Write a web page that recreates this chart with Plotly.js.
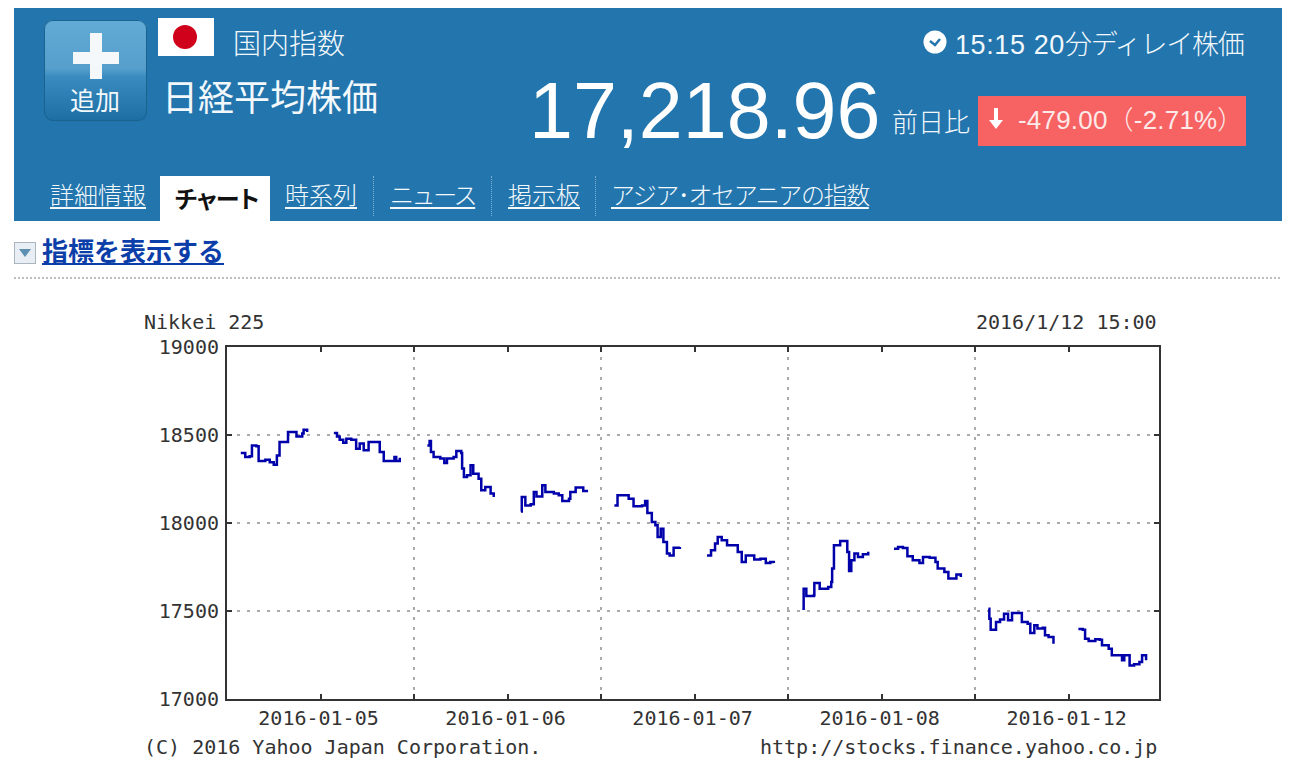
<!DOCTYPE html>
<html lang="ja">
<head>
<meta charset="utf-8">
<title>日経平均株価</title>
<script src="https://cdn.plot.ly/plotly-3.0.1.min.js"></script>
<style>
html,body{margin:0;padding:0;background:#fff;overflow:hidden;}
#chart{position:absolute;left:0;top:0;width:1300px;height:768px;}
#head{position:absolute;left:0;top:0;width:1300px;height:285px;font-family:"Noto Sans CJK JP",sans-serif;z-index:5;pointer-events:none;}
#head div,#head a,#head svg{position:absolute;white-space:nowrap;}
.w{color:#f2f8fc;font-weight:300;line-height:1;}
.tab{color:#f2f8fc;font-weight:300;font-size:24px;line-height:1;text-decoration:underline;text-underline-offset:3px;top:182px;}
.sep{top:176px;height:40px;width:0;border-left:1px dotted #7fb0d0;}
</style>
</head>
<body>
<div id="chart"></div>
<div id="head">
  <div style="left:14px;top:8px;width:1268px;height:213px;background:#2275ad;"></div>
  <div style="left:44px;top:20px;width:103px;height:101px;border-radius:9px;background:linear-gradient(#62abd6 0%,#569fcc 48%,#3a8cc0 56%,#1c6ea3 100%);box-shadow:inset 0 0 0 1px #1b628f;"></div>
  <div style="left:90px;top:33px;width:12px;height:46px;background:#f4f8fb;"></div>
  <div style="left:73px;top:52px;width:46px;height:12px;background:#f4f8fb;"></div>
  <div class="w" style="left:70px;top:87px;font-size:25px;font-weight:400;">追加</div>
  <div style="left:158px;top:18px;width:56px;height:38px;background:#fff;"></div>
  <div style="left:173px;top:25px;width:24px;height:24px;border-radius:50%;background:#d0021b;"></div>
  <div class="w" style="left:233px;top:28px;font-size:28px;">国内指数</div>
  <div class="w" style="left:162px;top:77px;font-size:36px;font-weight:400;">日経平均株価</div>
  <div class="w" style="left:529px;top:71px;font-size:79px;font-family:'Liberation Sans';font-weight:400;color:#fff;">17,218.96</div>
  <div class="w" style="left:892px;top:108px;font-size:26px;">前日比</div>
  <div style="left:978px;top:96px;width:268px;height:50px;background:#f76262;"></div>
  <svg style="left:987px;top:107px;" width="18" height="24" viewBox="0 0 18 24"><path d="M7 1h4v12h5l-7 9-7-9h5z" fill="#fff"/></svg>
  <div class="w" style="left:1018px;top:107px;font-size:26px;color:#fde9e9;font-family:'Liberation Sans','Noto Sans CJK JP';letter-spacing:0.2px;">-479.00（-2.71%）</div>
  <svg style="left:923px;top:30px;" width="24" height="24" viewBox="0 0 24 24"><circle cx="12" cy="12" r="11.5" fill="#fff"/><path d="M7 11l5 4 5-6" stroke="#2275ad" stroke-width="2.4" fill="none"/></svg>
  <div class="w" style="left:955px;top:29px;font-size:27px;"><span style="font-family:'Liberation Sans';letter-spacing:0.6px">15:15 20</span><span style="letter-spacing:-1.2px">分ディレイ株価</span></div>
  <a class="tab" style="left:50px;">詳細情報</a>
  <div style="left:160px;top:176px;width:110px;height:45px;background:#fff;"></div>
  <div style="left:174px;top:186px;font-size:24px;font-weight:700;color:#111;line-height:1;letter-spacing:-3px;">チャート</div>
  <a class="tab" style="left:285px;">時系列</a>
  <div class="sep" style="left:373px;"></div>
  <a class="tab" style="left:390px;letter-spacing:-2.4px;">ニュース</a>
  <div class="sep" style="left:491px;"></div>
  <a class="tab" style="left:508px;">掲示板</a>
  <div class="sep" style="left:595px;"></div>
  <a class="tab" style="left:611px;letter-spacing:-1.4px;">アジア･オセアニアの指数</a>
  <div style="left:14px;top:242px;width:20px;height:20px;background:#e8eef3;border:1px solid #a9b6c0;"></div>
  <svg style="left:18px;top:248px;" width="14" height="10" viewBox="0 0 14 10"><path d="M1 1h12l-6 8z" fill="#5c8fb0"/></svg>
  <div style="left:42px;top:237px;font-size:26px;font-weight:700;color:#0b3ea8;line-height:1;text-decoration:underline;text-underline-offset:2px;">指標を表示する</div>
  <div style="left:14px;top:277px;width:1266px;height:0;border-top:2px dotted #bdbdbd;"></div>
</div>
<script>
// Nikkei 225 intraday values. Times are minutes after 09:00 on each trading day.
var dayLabels = ["2016-01-05", "2016-01-06", "2016-01-07", "2016-01-08", "2016-01-12"];
var yTicks = [17000, 17500, 18000, 18500, 19000];

var jan05amT = [1,11,21,26,36,41,56,66,75,82,88,103,107,118,126,139,142,150];
var jan05amP = [18398,18375,18379,18441,18436,18352,18360,18345,18331,18384,18460,18460,18517,18517,18492,18508,18530,18517];
var jan05pmT = [210,217,223,231,238,249,260,268,277,288,301,313,322,336,346,350,358];
var jan05pmP = [18511,18492,18473,18456,18479,18473,18422,18451,18413,18460,18460,18403,18352,18352,18375,18352,18371];

var jan06amT = [0,5,8,14,29,38,44,59,65,76,78,82,89,97,103,115,121,130,140,142,149];
var jan06amP = [18441,18466,18403,18375,18366,18341,18366,18375,18409,18398,18309,18261,18271,18328,18280,18252,18186,18205,18205,18167,18148];
var jan06pmT = [210,212,220,232,239,245,258,265,284,295,303,318,321,333,344,350,358];
var jan06pmP = [18066,18148,18100,18106,18176,18151,18214,18176,18167,18157,18125,18138,18176,18201,18201,18182,18189];

var jan07amT = [0,7,22,32,43,62,69,74,84,92,97,104,110,118,124,133,147];
var jan07amP = [18100,18157,18157,18138,18095,18100,18125,18057,18006,17987,17920,17968,17892,17826,17816,17860,17864];
var jan07pmT = [208,217,226,232,241,253,268,277,286,295,307,314,328,340,350,358];
var jan07pmP = [17816,17845,17883,17920,17902,17873,17873,17835,17778,17816,17816,17792,17797,17773,17778,17773];

var jan08amT = [2,5,11,28,29,38,41,60,67,69,73,83,87,101,103,107,112,119,127,138,150];
var jan08amP = [17513,17627,17585,17589,17659,17659,17627,17636,17665,17741,17873,17873,17898,17898,17835,17727,17788,17826,17807,17822,17837];
var jan08pmT = [208,217,228,238,250,265,273,288,301,306,321,330,338,348,358];
var jan08pmP = [17854,17864,17858,17811,17788,17773,17807,17803,17778,17741,17722,17684,17684,17708,17693];

var jan12amT = [0,2,5,15,17,26,35,44,53,65,75,88,94,103,110,122,127,135,146];
var jan12amP = [17513,17456,17394,17394,17437,17451,17485,17447,17489,17489,17437,17428,17375,17419,17400,17405,17362,17352,17314];
var jan12pmT = [202,212,217,225,240,250,255,270,277,288,300,305,311,317,327,339,345,354];
var jan12pmP = [17398,17394,17343,17330,17339,17337,17305,17286,17248,17248,17220,17248,17248,17191,17197,17210,17248,17220];

var sessions = [
  [0, jan05amT, jan05amP], [0, jan05pmT, jan05pmP],
  [1, jan06amT, jan06amP], [1, jan06pmT, jan06pmP],
  [2, jan07amT, jan07amP], [2, jan07pmT, jan07pmP],
  [3, jan08amT, jan08amP], [3, jan08pmT, jan08pmP],
  [4, jan12amT, jan12amP], [4, jan12pmT, jan12pmP]
];

var DAY = 420, OPEN = 30;
var traces = sessions.map(function (s) {
  return {
    type: "scatter", mode: "lines", showlegend: false, hoverinfo: "skip",
    x: s[1].map(function (t) { return s[0] * DAY + OPEN + t; }),
    y: s[2],
    line: { color: "#0000aa", width: 2.5, shape: "hv" }
  };
});

var mono = { family: "'DejaVu Sans Mono', monospace", size: 20, color: "#333" };
var layout = {
  width: 1300, height: 768,
  margin: { l: 227, r: 141, t: 347, b: 69, pad: 0 },
  paper_bgcolor: "#fff", plot_bgcolor: "#fff",
  xaxis: {
    type: "linear", range: [0, 2093], showgrid: false, zeroline: false,
    showline: true, linecolor: "#333", linewidth: 2, mirror: "ticks",
    ticks: "inside", ticklen: 5, tickwidth: 2, tickcolor: "#333",
    tickmode: "array",
    tickvals: dayLabels.map(function (d, i) { return i * DAY + DAY / 2; }),
    ticktext: dayLabels, tickfont: mono, ticklabelstandoff: 0, ticklabelshift: -2,
    minor: {
      tickmode: "array", tickvals: [DAY, 2 * DAY, 3 * DAY, 4 * DAY],
      ticks: "inside", ticklen: 5, tickwidth: 2, tickcolor: "#333",
      showgrid: true, gridcolor: "#aaa", gridwidth: 2, griddash: "3px,7px"
    }
  },
  yaxis: {
    type: "linear", range: [17000, 19000], zeroline: false,
    showline: true, linecolor: "#333", linewidth: 2, mirror: "ticks",
    ticks: "inside", ticklen: 5, tickwidth: 2, tickcolor: "#333",
    tickmode: "array", tickvals: yTicks, ticktext: yTicks.map(String),
    tickfont: mono, ticklabelstandoff: 2,
    showgrid: true, gridcolor: "#aaa", gridwidth: 2, griddash: "3px,7px"
  },
  annotations: [
    { text: "Nikkei 225", xref: "paper", yref: "paper", x: -0.0912, y: 1.0710, xanchor: "left", yanchor: "middle", showarrow: false, font: mono },
    { text: "2016/1/12 15:00", xref: "paper", yref: "paper", x: 1.0001, y: 1.0710, xanchor: "right", yanchor: "middle", showarrow: false, font: mono },
    { text: "(C) 2016 Yahoo Japan Corporation.", xref: "paper", yref: "paper", x: -0.0912, y: -0.1350, xanchor: "left", yanchor: "middle", showarrow: false, font: mono },
    { text: "http://stocks.finance.yahoo.co.jp", xref: "paper", yref: "paper", x: 1.0001, y: -0.1350, xanchor: "right", yanchor: "middle", showarrow: false, font: mono }
  ]
};
Plotly.newPlot("chart", traces, layout, { displayModeBar: false, staticPlot: true });
</script>
</body>
</html>
